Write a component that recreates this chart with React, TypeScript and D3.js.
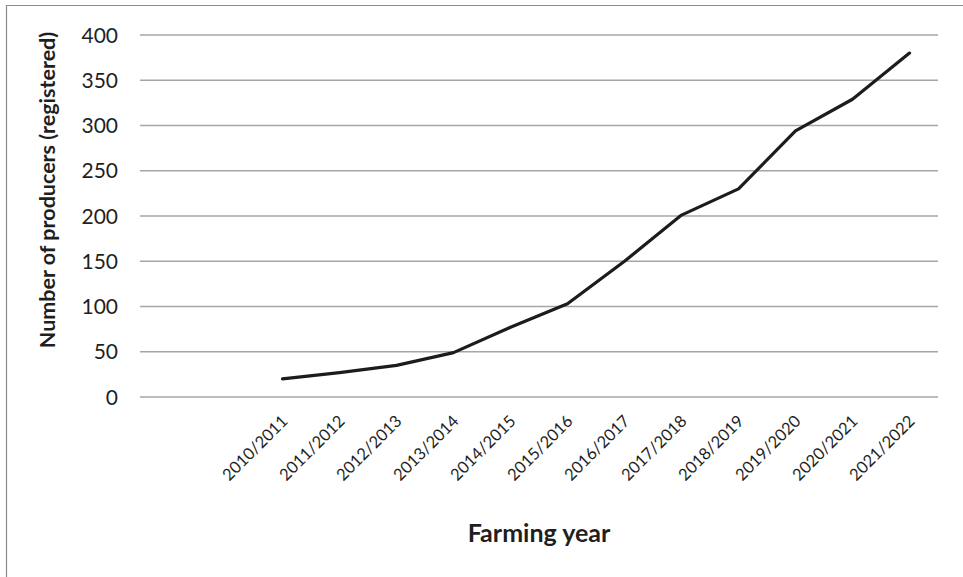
import React from "react";
import * as d3 from "d3";

const leadingBlanks = ["", " "];
const years = [
  "2010/2011", "2011/2012", "2012/2013", "2013/2014", "2014/2015", "2015/2016",
  "2016/2017", "2017/2018", "2018/2019", "2019/2020", "2020/2021", "2021/2022",
];
const producers = [20, 27, 35, 49, 77, 103, 150, 201, 230, 294, 329, 380];
const yTicks = [0, 50, 100, 150, 200, 250, 300, 350, 400];

const W = 963;
const H = 577;
const FONT = "Lato, 'Open Sans', sans-serif";

export default function App() {
  const left = 140, right = 938, top = 35, bottom = 397;
  const domain = [...leadingBlanks, ...years];
  const x = d3.scaleBand<string>().domain(domain).range([left, right]).padding(0);
  const y = d3.scaleLinear().domain([0, 400]).range([bottom, top]);
  const cx = (c: string) => (x(c) as number) + x.bandwidth() / 2;

  const line = d3
    .line<number>()
    .x((_, i) => cx(years[i]))
    .y((d) => y(d));

  return (
    <div style={{ position: "absolute", left: 0, top: 0 }}>
      <svg width={W} height={H} style={{ display: "block", background: "#fff" }}>
        <path d={`M6.5,${H} V5.5 H${W}`} fill="none" stroke="#8a8a8a" strokeWidth={1.2} />
        {yTicks.map((t) => (
          <g key={t}>
            <line x1={left} x2={right} y1={y(t)} y2={y(t)} stroke="#a6a6a6" strokeWidth={1.3} />
            <text
              x={118}
              y={y(t)}
              dy="0.36em"
              textAnchor="end"
              fontFamily={FONT}
              fontSize={21}
              fill="#1f1f1f"
            >
              {t}
            </text>
          </g>
        ))}
        {years.map((c) => (
          <text
            key={c}
            transform={`translate(${cx(c) + 2},${bottom + 21}) rotate(-45)`}
            textAnchor="end"
            dy="0.36em"
            fontFamily={FONT}
            fontSize={16.5}
            fill="#1f1f1f"
          >
            {c}
          </text>
        ))}
        <path
          d={line(producers) as string}
          fill="none"
          stroke="#1c1c1c"
          strokeWidth={3.2}
          strokeLinejoin="round"
          strokeLinecap="round"
        />
        <text
          transform={`translate(47,190) rotate(-90)`}
          textAnchor="middle"
          dy="0.36em"
          fontFamily={FONT}
          fontWeight="bold"
          fontSize={21.5}
          fill="#1f1f1f"
        >
          Number of producers (registered)
        </text>
        <text
          x={(left + right) / 2}
          y={541.5}
          textAnchor="middle"
          fontFamily={FONT}
          fontWeight="bold"
          fontSize={25}
          fill="#1f1f1f"
        >
          Farming year
        </text>
      </svg>
    </div>
  );
}
